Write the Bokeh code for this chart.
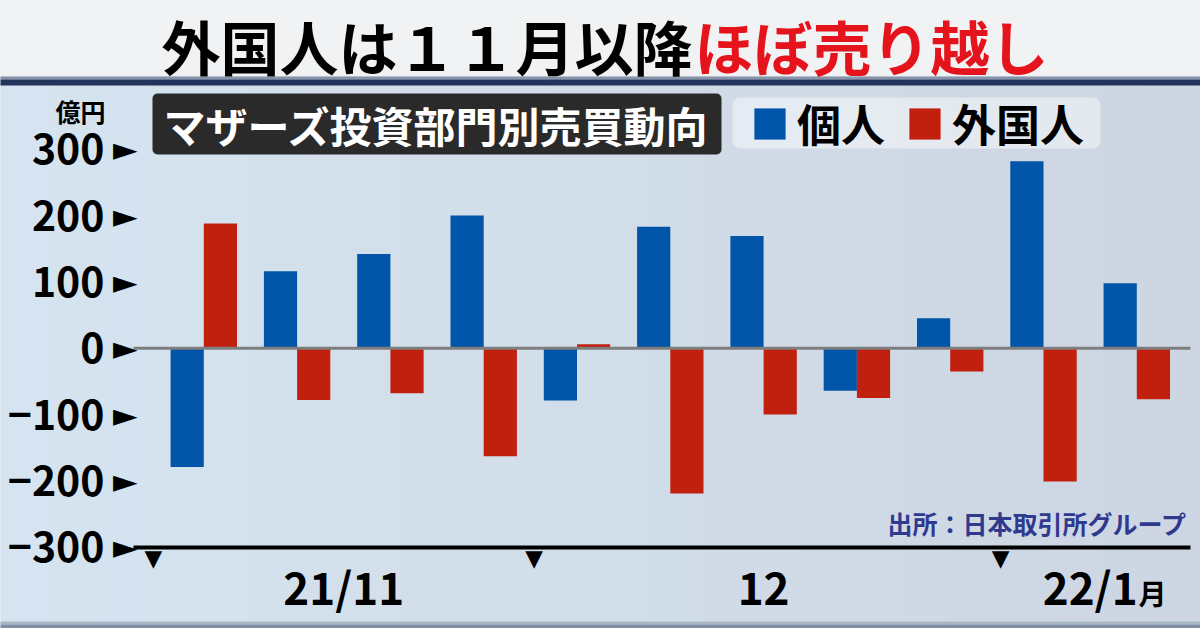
from bokeh.plotting import figure
from bokeh.models import (FixedTicker, LinearAxis, BoxAnnotation, Label, Legend,
                          LegendItem, Range1d, ColumnDataSource)
from bokeh.transform import dodge
from bokeh.embed import file_html
from bokeh.resources import INLINE

# ---------------- data ----------------
weeks = list(range(11))
individual = [-179, 116, 142, 200, -79, 183, 169, -64, 45, 282, 98]   # 個人
foreign = [188, -78, -68, -163, 6, -219, -100, -75, -35, -201, -77]     # 外国人
y_ticks = [-300, -200, -100, 0, 100, 200, 300]
y_labels = ["−300", "−200", "−100", "0", "100", "200", "300"]
month_ticks = [1.5, 6.0, 9.5]
month_labels = ["21/11", "12", "22/1"]
month_bounds = [-0.54, 3.54, 8.54]

# ---------------- style ----------------
BLUE = "#0055A8"
RED = "#C2200F"
TITLE_RED = "#E5141C"
BG = "#D1DDE9"
JP = "Noto Sans CJK JP"
SYM = "DejaVu Sans"

W, H = 1200, 628
PX_PER_WEEK = 93.3
PX_PER_100 = 66.33
X0_PAGE = 203.3        # page x of week 0 centre
Y0_PAGE = 347.7        # page y of value 0


def xdata(X):
    return (X - X0_PAGE) / PX_PER_WEEK


def ydata(Y):
    return (Y0_PAGE - Y) / PX_PER_100 * 100


def sx(X):
    return X


def sy(Y):
    return H - Y


x_lo, x_hi = xdata(133), xdata(1190)     # extent of the drawn x axis
p = figure(width=W, height=H, output_backend="svg", toolbar_location=None,
           x_range=Range1d(xdata(0), xdata(W)), y_range=Range1d(ydata(H), ydata(0)),
           x_axis_type=None, y_axis_type=None,
           min_border=0, min_border_left=0, min_border_right=0,
           min_border_top=0, min_border_bottom=0,
           background_fill_color=BG, border_fill_color=BG, outline_line_color=None)
p.xgrid.visible = False
p.ygrid.visible = False

# ---------------- axes ----------------
common = dict(major_tick_line_color=None, minor_tick_line_color=None,
              major_tick_in=0, major_tick_out=0, minor_tick_in=0, minor_tick_out=0)
tri_y = LinearAxis(ticker=FixedTicker(ticks=y_ticks), fixed_location=xdata(137),
                   major_label_overrides={t: "►" for t in y_ticks},
                   axis_line_color=None, major_label_standoff=0,
                   major_label_text_font=SYM, major_label_text_font_size="32px",
                   major_label_text_color="black", **common)
num_y = LinearAxis(ticker=FixedTicker(ticks=y_ticks), fixed_location=xdata(113),
                   major_label_overrides=dict(zip(y_ticks, y_labels)),
                   axis_line_color=None, major_label_standoff=9,
                   major_label_text_font=JP, major_label_text_font_style="bold",
                   major_label_text_font_size="41px", major_label_text_color="black", **common)
p.add_layout(tri_y, "left")
p.add_layout(num_y, "left")

tri_x = LinearAxis(ticker=FixedTicker(ticks=month_bounds), fixed_location=-300,
                   bounds=(x_lo, x_hi),
                   major_label_overrides={t: "▼" for t in month_bounds},
                   axis_line_color="black", axis_line_width=4, major_label_standoff=-2,
                   major_label_text_font=SYM, major_label_text_font_size="23px",
                   major_label_text_color="black", **common)
mon_x = LinearAxis(ticker=FixedTicker(ticks=month_ticks), fixed_location=-300,
                   major_label_overrides=dict(zip(month_ticks, month_labels)),
                   axis_line_color=None, major_label_standoff=7,
                   major_label_text_font=JP, major_label_text_font_style="bold",
                   major_label_text_font_size="44px", major_label_text_color="black", **common)
p.add_layout(tri_x, "below")
p.add_layout(mon_x, "below")


# ---------------- decorations (screen units) ----------------
def box(x0, y0, x1, y1, color, alpha=1.0, radius=0):
    b = BoxAnnotation(left=sx(x0), right=sx(x1), top=sy(y0), bottom=sy(y1),
                      left_units="screen", right_units="screen",
                      top_units="screen", bottom_units="screen",
                      fill_color=color, fill_alpha=alpha, line_color=None,
                      border_radius=radius, level="underlay")
    p.add_layout(b)
    return b


def label(text, X, Y, size, color="black", align="center", font=JP, style="bold"):
    lb = Label(x=sx(X), y=sy(Y), x_units="screen", y_units="screen", text=text,
               text_font=font, text_font_size=f"{size}px", text_font_style=style,
               text_color=color, text_align=align, text_baseline="middle")
    p.add_layout(lb)
    return lb


# soft left-to-right background shading (bluer on the left, greyer on the right)
c0, c1 = (213, 228, 240), (205, 214, 226)
n = 24
for i in range(n):
    t = i / (n - 1)
    col = "#%02X%02X%02X" % tuple(round(a + (b - a) * t) for a, b in zip(c0, c1))
    box(i * W / n, 85, (i + 1) * W / n + 1, 622, col)
box(-10, 621, W + 10, 624, "#A9B6C6")
box(-10, 624, W + 10, H + 10, "#7F90A6")

# title band
box(-20, -20, W + 20, 76, "#F1F2F3")
box(-20, 76, W + 20, 79, "#8793A8")
box(-20, 79, W + 20, 85, "#22335C")
label("外国人は１１月以降", 692, 45, 59, "black", "right")
label("ほぼ売り越し", 694, 45, 59, TITLE_RED, "left")

# subtitle box
box(152, 93, 721, 154, "#2A2A2A", radius=5)
label("マザーズ投資部門別売買動向", 436, 124, 42, "white")

# legend background
box(732, 97, 1100, 148, "#FFFFFF", alpha=0.45, radius=8)

# unit / source / month suffix
label("億円", 80, 110, 25)
label("出所：日本取引所グループ", 1037, 522, 25, "#2F3A8F")
label("月", 1138, 592, 28, "black", "left")

# ---------------- bars ----------------
src = ColumnDataSource(dict(week=weeks, individual=individual, foreign=foreign))
rb = p.vbar(x=dodge("week", -0.178), top="individual", bottom=0, width=0.356,
            source=src, fill_color=BLUE, line_color=None)
rr = p.vbar(x=dodge("week", 0.178), top="foreign", bottom=0, width=0.356,
            source=src, fill_color=RED, line_color=None)
p.segment(x0=x_lo, x1=x_hi, y0=0, y1=0, line_color="#7E7E7E", line_width=3)

legend = Legend(items=[LegendItem(label="個人", renderers=[rb]),
                       LegendItem(label="外国人", renderers=[rr])],
                orientation="horizontal", location=(sx(750), sy(104) - 51),
                label_text_font=JP, label_text_font_style="bold",
                label_text_font_size="44px", label_text_color="black",
                glyph_width=39, glyph_height=39, label_standoff=8, spacing=20,
                padding=0, margin=0, background_fill_alpha=0, border_line_alpha=0)
p.add_layout(legend, "center")

open("out.html", "w").write(file_html(p, INLINE))
